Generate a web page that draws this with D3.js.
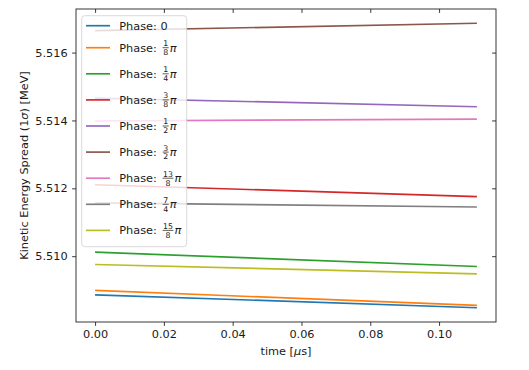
<!DOCTYPE html>
<html>
<head>
<meta charset="utf-8">
<script src="https://cdn.jsdelivr.net/npm/d3@7"></script>
<style>
  body { margin: 0; background: #fff; }
  text { font-family: "DejaVu Sans", sans-serif; fill: #1a1a1a; }
</style>
</head>
<body>
<div class="svg-container"></div>
<script>
// data (time in microseconds, energy spread in MeV)
const times = [0, 0.111];
const phaseNum = [null, 1, 1, 3, 1, 3, 13, 7, 15];
const phaseDen = [null, 8, 4, 8, 2, 2, 8, 4, 8];
const spread0 = [5.508862, 5.508480];
const spread1_8 = [5.508991, 5.508550];
const spread1_4 = [5.510118, 5.509697];
const spread3_8 = [5.512106, 5.511753];
const spread1_2 = [5.514659, 5.514403];
const spread3_2 = [5.516647, 5.516865];
const spread13_8 = [5.513985, 5.514041];
const spread7_4 = [5.511571, 5.511450];
const spread15_8 = [5.509756, 5.509479];
const xTicks = [0, 0.02, 0.04, 0.06, 0.08, 0.10];
const yTicks = [5.510, 5.512, 5.514, 5.516];
const colours = ['#1f77b4', '#ff7f0e', '#2ca02c', '#d62728', '#9467bd', '#8c564b', '#e377c2', '#7f7f7f', '#bcbd22'];

const series = [spread0, spread1_8, spread1_4, spread3_8, spread1_2, spread3_2, spread13_8, spread7_4, spread15_8];

// dimensions
const width = 529;
const height = 370;
const margin = { top: 9, right: 33, bottom: 48, left: 76 };
const fontSize = 11.3;
const tickLen = 3.9;

const svg = d3.select('.svg-container')
  .append('svg')
  .attr('width', width)
  .attr('height', height);

// matplotlib style 5% padding
function padded(lo, hi) {
  const m = (hi - lo) * 0.05;
  return [lo - m, hi + m];
}
const allVals = series.flat();

const x = d3.scaleLinear()
  .domain(padded(d3.min(times), d3.max(times)))
  .range([margin.left, width - margin.right]);

const y = d3.scaleLinear()
  .domain(padded(d3.min(allVals), d3.max(allVals)))
  .range([height - margin.bottom, margin.top]);

// lines
const line = d3.line()
  .x((d, i) => x(times[i]))
  .y(d => y(d));

svg.append('g')
  .selectAll('path')
  .data(series)
  .enter()
  .append('path')
  .attr('d', d => line(d))
  .attr('fill', 'none')
  .attr('stroke', (d, i) => colours[i])
  .attr('stroke-width', 1.67);

// axes (bottom/left ticks outward, top/right inward)
svg.append('g')
  .attr('transform', `translate(0,${height - margin.bottom})`)
  .call(d3.axisBottom(x).tickValues(xTicks).tickFormat(d3.format('.2f')).tickSize(tickLen).tickPadding(4.5));

svg.append('g')
  .attr('transform', `translate(${margin.left},0)`)
  .call(d3.axisLeft(y).tickValues(yTicks).tickFormat(d3.format('.3f')).tickSize(tickLen).tickPadding(4.5));

svg.append('g')
  .attr('transform', `translate(0,${margin.top})`)
  .call(d3.axisBottom(x).tickValues(xTicks).tickFormat('').tickSize(tickLen));

svg.append('g')
  .attr('transform', `translate(${width - margin.right},0)`)
  .call(d3.axisRight(y).tickValues(yTicks).tickFormat('').tickSize(-tickLen));

svg.selectAll('.tick line').attr('stroke', '#222').attr('stroke-width', 0.9);
svg.selectAll('.domain').remove();
svg.selectAll('.tick text')
  .style('font-family', '"DejaVu Sans", sans-serif')
  .style('font-size', fontSize + 'px')
  .attr('fill', '#1a1a1a');

// frame
svg.append('rect')
  .attr('x', margin.left)
  .attr('y', margin.top)
  .attr('width', width - margin.left - margin.right)
  .attr('height', height - margin.top - margin.bottom)
  .attr('fill', 'none')
  .attr('stroke', '#222')
  .attr('stroke-width', 0.9);

// axis labels
svg.append('text')
  .attr('x', (margin.left + width - margin.right) / 2)
  .attr('y', 355)
  .attr('text-anchor', 'middle')
  .style('font-size', fontSize + 'px')
  .html('time [<tspan font-style="italic">μ</tspan>s]');

svg.append('text')
  .attr('transform', `translate(28,${(margin.top + height - margin.bottom) / 2}) rotate(-90)`)
  .attr('text-anchor', 'middle')
  .style('font-size', fontSize + 'px')
  .html('Kinetic Energy Spread (1<tspan font-style="italic">σ</tspan>) [MeV]');

// legend
const legendX = 81.7;
const legendY = 15.7;
const legendW = 105;
const rowCentres = phaseNum.map((d, i) => i === 0 ? legendY + 10 : legendY + 32 + (i - 1) * 26.1);
const legendH = rowCentres[rowCentres.length - 1] + 16.3 - legendY;

const legend = svg.append('g').attr('id', 'legend');

legend.append('rect')
  .attr('x', legendX)
  .attr('y', legendY)
  .attr('width', legendW)
  .attr('height', legendH)
  .attr('rx', 3)
  .attr('fill', 'white')
  .attr('fill-opacity', 0.8)
  .attr('stroke', '#cccccc')
  .attr('stroke-opacity', 0.8)
  .attr('stroke-width', 0.9);

const entry = legend.selectAll('g.entry')
  .data(phaseNum.map((n, i) => ({ num: n, den: phaseDen[i], colour: colours[i], cy: rowCentres[i] })))
  .enter()
  .append('g')
  .attr('class', 'entry')
  .attr('transform', d => `translate(0,${d.cy})`);

entry.append('line')
  .attr('x1', 86)
  .attr('x2', 110)
  .attr('stroke', d => d.colour)
  .attr('stroke-width', 1.67);

entry.append('text')
  .attr('x', 119.3)
  .attr('y', 4)
  .style('font-size', fontSize + 'px')
  .text(d => d.num === null ? 'Phase: 0' : 'Phase: ');

// fraction parts for the phases
const fracX = 162.6;

entry.filter(d => d.num !== null).each(function(d) {
  const g = d3.select(this);
  const w = String(d.num).length * 4.7 + 1.4;
  const cx = fracX + w / 2;
  g.append('line')
    .attr('x1', fracX)
    .attr('x2', fracX + w)
    .attr('stroke', '#1a1a1a')
    .attr('stroke-width', 0.7);
  g.append('text')
    .attr('x', cx)
    .attr('y', -1.6)
    .attr('text-anchor', 'middle')
    .style('font-size', '7.8px')
    .text(d.num);
  g.append('text')
    .attr('x', cx)
    .attr('y', 7.4)
    .attr('text-anchor', 'middle')
    .style('font-size', '7.8px')
    .text(d.den);
  g.append('text')
    .attr('x', fracX + w + 1)
    .attr('y', 4)
    .style('font-size', fontSize + 'px')
    .style('font-style', 'italic')
    .text('π');
});
</script>
</body>
</html>
